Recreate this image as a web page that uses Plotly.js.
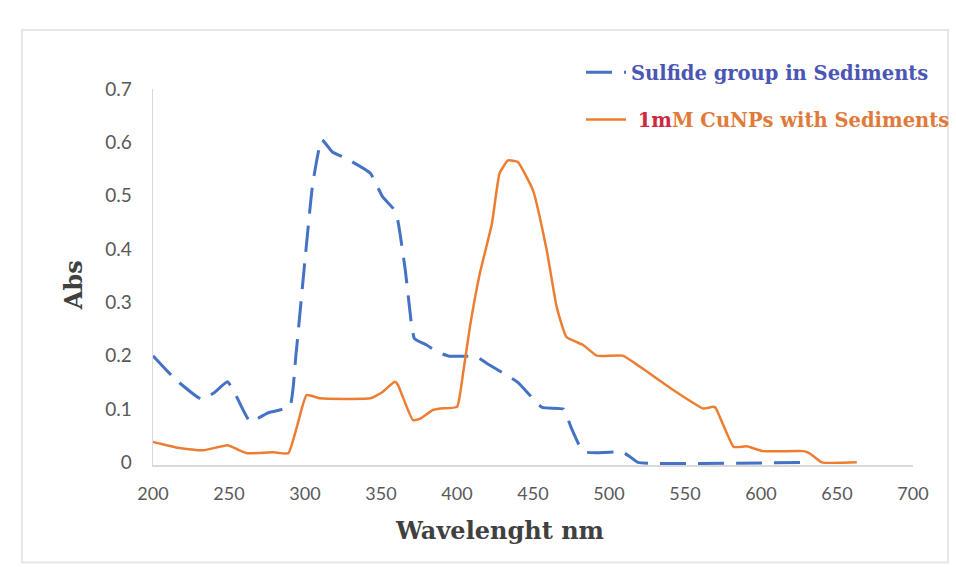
<!DOCTYPE html>
<html>
<head>
<meta charset="utf-8">
<script src="https://cdn.plot.ly/plotly-3.0.1.min.js"></script>
<style>
  html, body { margin: 0; padding: 0; background: #ffffff; }
  #chart { width: 956px; height: 567px; }
</style>
</head>
<body>
<div id="chart"></div>
<script>
// Wavelength (nm) and absorbance
const sulfideWavelength = [200, 215, 232, 240, 249, 255, 264, 275, 290, 294, 300, 305, 311, 318, 327, 343, 351, 358, 361, 366, 370, 372, 380, 387, 395, 410, 413, 420, 440, 456, 470, 475, 481, 485, 492, 509, 514, 519, 630];
const sulfideAbs        = [0.20, 0.155, 0.118, 0.13, 0.151, 0.123, 0.076, 0.092, 0.105, 0.20, 0.38, 0.52, 0.605, 0.582, 0.570, 0.542, 0.498, 0.476, 0.454, 0.36, 0.26, 0.232, 0.22, 0.207, 0.199, 0.199, 0.198, 0.185, 0.15, 0.103, 0.10, 0.066, 0.029, 0.019, 0.018, 0.019, 0.01, 0, 0];

const cunpWavelength = [200, 215, 233, 249, 255, 262, 279, 289, 295, 301, 310, 343, 351, 359, 361, 371, 376, 384, 389, 400, 404, 408.5, 415, 423, 428, 433.6, 440, 450, 459, 465.6, 472, 483, 492, 509, 520, 540, 562, 568, 570, 582, 590.6, 601, 628, 632, 640, 663];
const cunpAbs        = [0.038, 0.028, 0.0225, 0.032, 0.025, 0.017, 0.019, 0.017, 0.07, 0.126, 0.12, 0.12, 0.132, 0.151, 0.146, 0.079, 0.082, 0.098, 0.101, 0.104, 0.167, 0.254, 0.354, 0.448, 0.542, 0.566, 0.563, 0.51, 0.398, 0.291, 0.235, 0.22, 0.20, 0.20, 0.18, 0.14, 0.101, 0.104, 0.103, 0.029, 0.03, 0.021, 0.021, 0.017, 0, 0];

const seriesNames = [
  '<span style="color:#4a55b4">Sulfide group in Sediments</span>',
  '<span style="color:#cc2a3e">&nbsp;1m</span><span style="color:#e07a3a">M CuNPs with Sediments</span>'
];
const xTicks = [200, 250, 300, 350, 400, 450, 500, 550, 600, 650, 700];
const yTicks = [0, 0.1, 0.2, 0.3, 0.4, 0.5, 0.6, 0.7];
const yTickText = ['0', '0.1', '0.2', '0.3', '0.4', '0.5', '0.6', '0.7'];
const xTitle = 'Wavelenght nm';
const yTitle = 'Abs';

const serif = '"DejaVu Serif", "Liberation Serif", serif';

const traces = [
  {
    x: sulfideWavelength, y: sulfideAbs, name: seriesNames[0], legendgroup: 'a',
    type: 'scatter', mode: 'lines',
    line: { color: '#4472C4', width: 3, dash: '26px,12px', shape: 'spline', smoothing: 0.4 },
    hoverinfo: 'skip'
  },
  {
    x: cunpWavelength, y: cunpAbs, name: seriesNames[1], legendgroup: 'b',
    type: 'scatter', mode: 'lines',
    line: { color: '#ED7D31', width: 2.5, shape: 'spline', smoothing: 0.4 },
    hoverinfo: 'skip'
  }
];

// plot area: x 153..913, y(0)=462, y(0.7)=89
const pxPerUnit = 373 / 0.7;
const yMin = -0.005;
const bottomPx = 462 + (-yMin) * pxPerUnit;
const plotH = bottomPx - 89;
const py = p => (bottomPx - p) / plotH; // pixel y -> paper y
const px = p => (p - 153) / 760;        // pixel x -> paper x

const layout = {
  width: 956, height: 567,
  margin: { l: 153, r: 43, t: 89, b: 567 - bottomPx, autoexpand: false },
  paper_bgcolor: '#ffffff', plot_bgcolor: '#ffffff',
  showlegend: true,
  legend: {
    x: px(581), xanchor: 'left', y: py(53), yanchor: 'top',
    font: { family: serif, size: 19.5, weight: 'bold' },
    tracegroupgap: 19, bgcolor: 'rgba(0,0,0,0)', itemwidth: 40
  },
  xaxis: {
    range: [200, 700], tickvals: xTicks, ticks: '', showgrid: false, zeroline: false,
    showline: true, linecolor: '#d9d9d9', linewidth: 1.5, layer: 'below traces',
    tickfont: { family: 'Lato, "Open Sans", sans-serif', size: 18, color: '#595959' },
    ticklabelstandoff: 12, fixedrange: true
  },
  yaxis: {
    range: [yMin, 0.7], tickvals: yTicks, ticktext: yTickText, ticks: '', showgrid: false, zeroline: false,
    showline: true, linecolor: '#d9d9d9', linewidth: 1.5, layer: 'below traces',
    tickfont: { family: 'Lato, "Open Sans", sans-serif', size: 19, color: '#595959' },
    ticklabelstandoff: 16, fixedrange: true
  },
  annotations: [
    { text: '<b>' + xTitle + '</b>', xref: 'paper', yref: 'paper', x: px(499), y: py(530),
      xanchor: 'center', yanchor: 'middle', showarrow: false,
      font: { family: serif, size: 24, color: '#404040' } },
    { text: '<b>' + yTitle + '</b>', xref: 'paper', yref: 'paper', x: px(73), y: py(285),
      xanchor: 'center', yanchor: 'middle', showarrow: false, textangle: -90,
      font: { family: serif, size: 24, color: '#404040' } }
  ],
  shapes: [
    { type: 'rect', xref: 'paper', yref: 'paper', layer: 'below',
      x0: px(22), x1: px(948), y0: py(562), y1: py(30),
      line: { color: '#e6e6e6', width: 2 }, fillcolor: 'rgba(0,0,0,0)' }
  ]
};

Plotly.newPlot('chart', traces, layout, { displayModeBar: false, staticPlot: true });
</script>
</body>
</html>
